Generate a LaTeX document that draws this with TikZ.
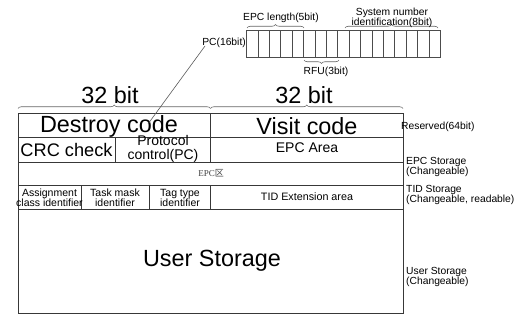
\documentclass[tikz,border=0pt]{standalone}
\usepackage{fontspec}
\setmainfont{Liberation Sans}
\newfontfamily\cjkfont{Noto Sans CJK SC}
\newfontfamily\serfont{Liberation Serif}
\usetikzlibrary{decorations.pathreplacing}
\newcommand\fsz[2]{\fontsize{#1}{#2}\selectfont}

\begin{document}
\begin{tikzpicture}[x=1pt,y=-1pt,
  frame/.style={draw=black!78, line width=0.8pt},
  bitcell/.style={draw=black!70, line width=0.6pt},
  brc/.style={draw=black!60, line width=0.6pt, decorate,
    decoration={brace, amplitude=3.5pt}},
  big/.style={inner sep=0pt, font=\fsz{23.4}{24}},
  mid/.style={inner sep=0pt, font=\fsz{14}{14}, align=center},
  small/.style={inner sep=0pt, font=\fsz{10.5}{10}, align=center},
  side/.style={inner sep=0pt, font=\fsz{10.3}{10}, align=left, anchor=west},
]
\useasboundingbox (0,0) rectangle (529,318);

% ---- memory map frame ----
\draw[frame] (18,113) rectangle (403,313);
\foreach \yy in {137,162,185,209} \draw[frame] (18,\yy) -- (403,\yy);
\draw[frame] (210.5,113) -- (210.5,162);
\draw[frame] (115,137) -- (115,162);
\foreach \xx in {81.7,149,210.5} \draw[frame] (\xx,185) -- (\xx,209);

% ---- 32 bit braces ----
\draw[brc] (18,108.5) -- (210.5,108.5);
\draw[brc] (210.5,108.5) -- (403,108.5);
\node[big] (bitsl) at (110,95) {32 bit};
\node[big] (bitsr) at (304,95) {32 bit};

% ---- reserved bank ----
\node[big] (destroy) at (109,126) {Destroy code};
\node[big] (visit) at (307,126) {Visit code};

% ---- EPC bank ----
\node[inner sep=0pt, font=\fsz{18.2}{18}] (crc) at (66.5,150) {CRC check};
\node[mid] (pcfield) at (163,148.5) {Protocol\\control(PC)};
\node[mid] (epcarea) at (307,148) {EPC Area};
\node[inner sep=0pt, font=\fsz{9}{9}, text=black!75] (epczh) at (211,173.5)
  {\serfont EPC\cjkfont 区};

% ---- TID bank ----
\node[small] (assign) at (49.5,198) {Assignment\\class identifier};
\node[small] (taskmask) at (115,198) {Task mask\\identifier};
\node[small] (tagtype) at (180,198) {Tag type\\identifier};
\node[inner sep=0pt, font=\fsz{10.75}{11}] (tidext) at (307,197) {TID Extension area};

% ---- user bank ----
\node[big] (user) at (212,261) {User Storage};

% ---- bank descriptions ----
\node[side] (rsv) at (401,127) {Reserved(64bit)};
\node[side] (epcst) at (406,167) {EPC Storage\\(Changeable)};
\node[side] (tidst) at (406,195) {TID Storage\\(Changeable, readable)};
\node[side] (userst) at (406,277) {User Storage\\(Changeable)};

% ---- PC word, 16 bit cells ----
\foreach \i in {0,...,16}
  \draw[bitcell] ({246.5+11.4*\i},30) rectangle ({246.5+11.4*(\i+1)},57);
\node[side, anchor=east] (pclbl) at (246,43) {PC(16bit)};
\coordinate (pcfrom) at (205,46);
\coordinate (pcto) at (148,124);
\draw[draw=black!65, line width=0.6pt] (pcfrom) -- (pcto);

\draw[brc] (247,28) -- (304,28);
\node[side, anchor=center] (epclen) at (281,18) {EPC length(5bit)};
\draw[brc] (339,60) -- (304,60);
\node[side, anchor=center] (rfu) at (326,72) {RFU(3bit)};
\draw[brc] (345,28) -- (438,28);
\node[side, align=center, anchor=center] (sysnum) at (392,17.5) {System number\\identification(8bit)};
\end{tikzpicture}
\end{document}
